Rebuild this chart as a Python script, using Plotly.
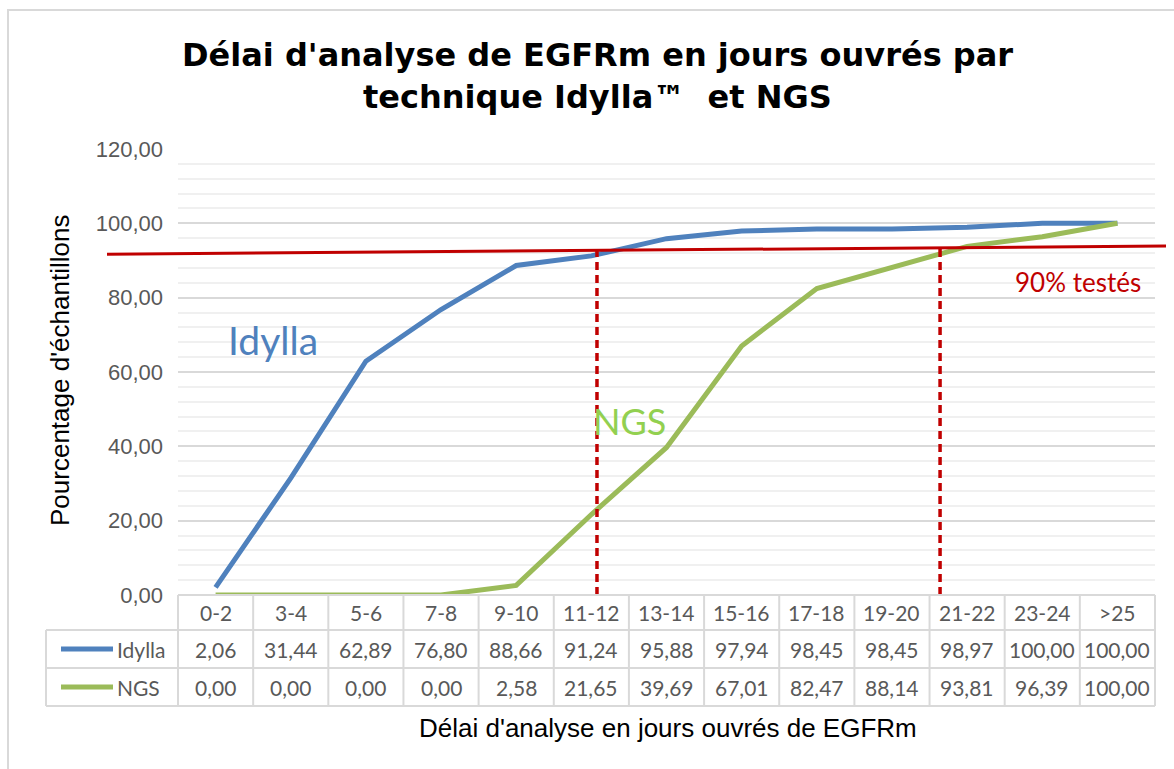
import plotly.graph_objects as go

# data
categories = ["0-2", "3-4", "5-6", "7-8", "9-10", "11-12", "13-14", "15-16",
              "17-18", "19-20", "21-22", "23-24", ">25"]
idylla = [2.06, 31.44, 62.89, 76.80, 88.66, 91.24, 95.88, 97.94, 98.45, 98.45, 98.97, 100.00, 100.00]
ngs = [0.00, 0.00, 0.00, 0.00, 2.58, 21.65, 39.69, 67.01, 82.47, 88.14, 93.81, 96.39, 100.00]
series_names = ["Idylla", "NGS"]
y_ticks = [0, 20, 40, 60, 80, 100, 120]

# hand drawn "90% testés" line (slightly tilted) and the two cut-off markers
threshold_left = 91.7
threshold_right = 93.9
cutoffs = [5.075, 9.64]   # position on the category axis

BLUE = "#4f81bd"
GREEN = "#9bbb59"
RED = "#c00000"
GRID = "#d9d9d9"
TXT = "#595959"
TABLE_FONT = "Lato"
ARIAL = "Liberation Sans, Arial"

W, H = 1174, 769
L, R, T, B = 178, 19, 149, 174
PW, PH = W - L - R, H - T - B


def px(xpix):
    return (xpix - L) / PW


def py(ypix):
    return (H - B - ypix) / PH


def fmt(v):
    return f"{v:.2f}".replace(".", ",")


n = len(categories)
xs = list(range(n))

fig = go.Figure()
fig.add_trace(go.Scatter(x=xs, y=idylla, mode="lines", name="Idylla",
                         line=dict(color=BLUE, width=5)))
fig.add_trace(go.Scatter(x=xs, y=ngs, mode="lines", name="NGS",
                         line=dict(color=GREEN, width=5)))

shapes = []
annotations = []

# threshold line
xl, xr = px(107), px(1166)
shapes.append(dict(type="line", xref="paper", yref="y", x0=xl, x1=xr,
                   y0=threshold_left, y1=threshold_right,
                   line=dict(color=RED, width=3)))
for c in cutoffs:
    # y of the tilted line at this x
    xp = (c + 0.5) / n
    yt = threshold_left + (threshold_right - threshold_left) * (xp - xl) / (xr - xl)
    shapes.append(dict(type="line", xref="x", yref="y", x0=c, x1=c, y0=0, y1=yt,
                       line=dict(color=RED, width=3.5, dash="8px,5px")))

# data table
row_y = [595, 630, 668, 706]
for k in range(n + 1):
    shapes.append(dict(type="line", xref="paper", yref="paper", x0=k / n, x1=k / n,
                       y0=py(595), y1=py(706), line=dict(color=GRID, width=2)))
shapes.append(dict(type="line", xref="paper", yref="paper", x0=px(46), x1=px(46),
                   y0=py(630), y1=py(706), line=dict(color=GRID, width=2)))
shapes.append(dict(type="line", xref="paper", yref="paper", x0=0, x1=1,
                   y0=py(595), y1=py(595), line=dict(color=GRID, width=2)))
for yy in row_y[1:]:
    shapes.append(dict(type="line", xref="paper", yref="paper", x0=px(46), x1=1,
                       y0=py(yy), y1=py(yy), line=dict(color=GRID, width=2)))

row_centers = [612, 649, 687]
tfont = dict(family=TABLE_FONT, size=21, color=TXT)
for i, cat in enumerate(categories):
    annotations.append(dict(x=i, y=py(row_centers[0]), xref="x", yref="paper",
                            xanchor="center", yanchor="middle",
                            text=cat, showarrow=False, font=tfont))
    for vals, rc in ((idylla, row_centers[1]), (ngs, row_centers[2])):
        annotations.append(dict(x=i, y=py(rc), xref="x", yref="paper",
                                xanchor="center", yanchor="middle",
                                text=fmt(vals[i]), showarrow=False, font=tfont))

for name, col, rc in zip(series_names, [BLUE, GREEN], row_centers[1:]):
    shapes.append(dict(type="line", xref="paper", yref="paper", x0=px(61), x1=px(113),
                       y0=py(rc), y1=py(rc), line=dict(color=col, width=5)))
    annotations.append(dict(x=px(115), y=py(rc), xref="paper", yref="paper",
                            text=name, showarrow=False, xanchor="left", yanchor="middle",
                            font=tfont))

# outer chart border
shapes.append(dict(type="rect", xref="paper", yref="paper", x0=px(8), x1=px(1190),
                   y0=py(790), y1=py(10), line=dict(color=GRID, width=2)))

# title lines and labels
title_lines = ["Délai d'analyse de EGFRm en jours ouvrés par",
               "technique Idylla™  et NGS"]
for txt, yc in zip(title_lines, [55, 97]):
    annotations.append(dict(x=px(597), y=py(yc), xref="paper", yref="paper",
                            xanchor="center", yanchor="middle", text=txt, showarrow=False,
                            font=dict(family="DejaVu Sans", size=32, color="black",
                                      weight="bold")))

annotations += [
    dict(x=px(273), y=py(340), xref="paper", yref="paper", text="Idylla",
         xanchor="center", yanchor="middle",
         showarrow=False, font=dict(family=TABLE_FONT, size=39, color=BLUE)),
    dict(x=px(629), y=py(421), xref="paper", yref="paper", text="NGS",
         xanchor="center", yanchor="middle",
         showarrow=False, font=dict(family=TABLE_FONT, size=36, color="#92d050")),
    dict(x=px(1078), y=py(282), xref="paper", yref="paper", text="90% testés",
         xanchor="center", yanchor="middle",
         showarrow=False, font=dict(family=TABLE_FONT, size=26, color=RED)),
    dict(x=px(60), y=py(371), xref="paper", yref="paper",
         xanchor="center", yanchor="middle",
         text="Pourcentage d'échantillons", textangle=-90, showarrow=False,
         font=dict(family=ARIAL, size=26, color="black")),
    dict(x=px(668), y=py(728), xref="paper", yref="paper",
         xanchor="center", yanchor="middle",
         text="Délai d'analyse en jours ouvrés de EGFRm", showarrow=False,
         font=dict(family=ARIAL, size=26, color="black")),
]

fig.update_layout(
    width=W, height=H,
    margin=dict(l=L, r=R, t=T, b=B),
    paper_bgcolor="white", plot_bgcolor="white",
    showlegend=False,
    shapes=shapes,
    annotations=annotations,
)
fig.update_xaxes(range=[-0.5, n - 0.5], showticklabels=False, showgrid=False,
                 zeroline=False, showline=False)
fig.update_yaxes(range=[0, 120], tickvals=y_ticks, ticktext=[fmt(v) for v in y_ticks],
                 showgrid=True, gridcolor=GRID, gridwidth=1.5, zeroline=False,
                 showline=False, ticklabelstandoff=14,
                 tickfont=dict(family=ARIAL, size=22, color=TXT),
                 minor=dict(dtick=4, showgrid=True, gridcolor="#f0f0f0", gridwidth=1.5))

fig.write_html("out.html", config={"displayModeBar": False},
               post_script="document.body.style.margin='0';")
